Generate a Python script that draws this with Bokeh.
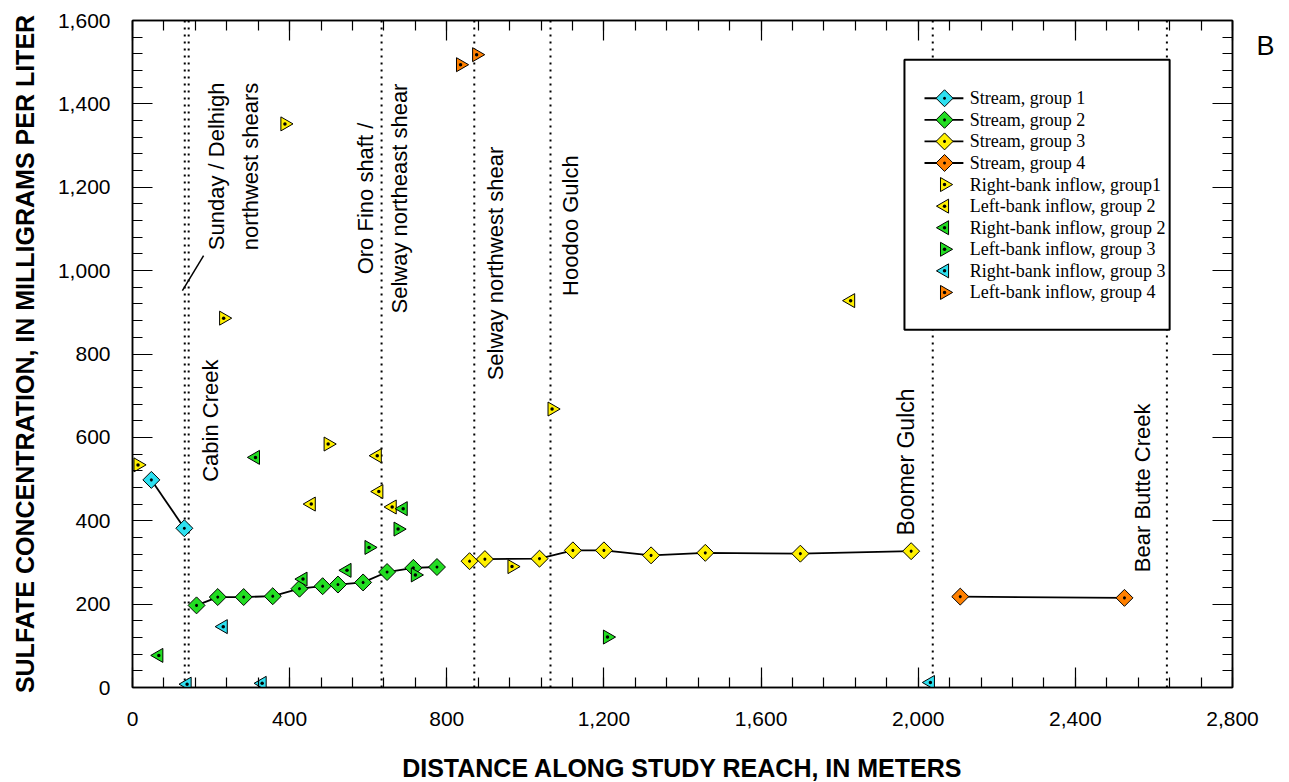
import numpy as np
from bokeh.plotting import figure
from bokeh.models import (Range1d, LinearAxis, SingleIntervalTicker, FixedTicker,
                          NumeralTickFormatter, CustomJSTickFormatter, Label)
from bokeh.core.properties import value
from bokeh.embed import file_html
from bokeh.resources import INLINE

# ---------------- data ----------------
stream1_x = [48, 132]
stream1_y = [498, 382]
stream2_x = [163, 217, 283, 357, 425, 484, 523, 587, 648, 715, 775]
stream2_y = [197, 217, 217, 219, 237, 243, 247, 252, 277, 287, 289]
stream3_x = [858, 897, 1036, 1121, 1200, 1320, 1458, 1700, 1982]
stream3_y = [303, 308, 309, 329, 329, 317, 323, 321, 327]
stream4_x = [2107, 2525]
stream4_y = [218, 215]

rb1_x = [14, 232, 388, 498, 966, 1068]          # Right-bank inflow, group1
rb1_y = [534, 886, 1352, 584, 290, 668]
lb2_x = [455, 623, 627, 661, 1828]              # Left-bank inflow, group 2
lb2_y = [440, 556, 470, 433, 928]
rb2_x = [67, 313, 434, 546, 689]                # Right-bank inflow, group 2
rb2_y = [77, 552, 260, 281, 429]
lb3_x = [602, 676, 720, 1209]                   # Left-bank inflow, group 3
lb3_y = [336, 380, 270, 121]
rb3_x = [139, 231, 330, 2031]                   # Right-bank inflow, group 3
rb3_y = [8, 146, 10, 12]
lb4_x = [835, 876]                              # Left-bank inflow, group 4
lb4_y = [1494, 1518]

feature_x = [133, 143, 634, 870, 1064, 2037, 2633]

legend_labels = ["Stream, group 1", "Stream, group 2", "Stream, group 3", "Stream, group 4",
                 "Right-bank inflow, group1", "Left-bank inflow, group 2",
                 "Right-bank inflow, group 2", "Left-bank inflow, group 3",
                 "Right-bank inflow, group 3", "Left-bank inflow, group 4"]

x_ticks_interval = 400
y_ticks_interval = 200

CYAN = "#2EE0F0"
GREEN = "#22DD22"
YELLOW = "#FFF000"
ORANGE = "#FF8000"

SANS = "Liberation Sans"
SERIF = "Liberation Serif"

X0, X1, Y0, Y1 = 0, 2800, 0, 1600

p = figure(frame_width=1100, frame_height=667,
           min_border_left=132, min_border_right=57, min_border_top=20, min_border_bottom=95,
           x_range=Range1d(X0, X1), y_range=Range1d(Y0, Y1),
           output_backend="svg", toolbar_location=None,
           background_fill_color="white", border_fill_color="white")
p.xgrid.visible = False
p.ygrid.visible = False
p.outline_line_color = "black"
p.outline_line_width = 1.5


def style_axis(ax, show_labels, standoff):
    ax.major_tick_in = 20
    ax.major_tick_out = 0
    ax.minor_tick_in = 10
    ax.minor_tick_out = 0
    ax.axis_line_color = "black"
    ax.axis_line_width = 1.5
    ax.major_tick_line_color = "black"
    ax.minor_tick_line_color = "black"
    ax.major_tick_line_width = 1.2
    ax.minor_tick_line_width = 1.2
    if show_labels:
        ax.formatter = NumeralTickFormatter(format="0,0")
        ax.major_label_text_font = SANS
        ax.major_label_text_font_size = "21px"
        ax.major_label_text_color = "black"
        ax.major_label_standoff = standoff
    else:
        ax.formatter = CustomJSTickFormatter(code="return ''")
        ax.major_label_standoff = 0


p.xaxis.ticker = SingleIntervalTicker(interval=x_ticks_interval, num_minor_ticks=5)
p.yaxis.ticker = SingleIntervalTicker(interval=y_ticks_interval, num_minor_ticks=5)
style_axis(p.xaxis[0], True, 24)
style_axis(p.yaxis[0], True, 22)

for ax in (p.xaxis[0], p.yaxis[0]):
    ax.axis_label_text_font = SANS
    ax.axis_label_text_font_size = "25px"
    ax.axis_label_text_font_style = "bold"
    ax.axis_label_text_color = "black"
p.xaxis.axis_label = "DISTANCE ALONG STUDY REACH, IN METERS"
p.xaxis.axis_label_standoff = 25
p.yaxis.axis_label = "SULFATE CONCENTRATION, IN MILLIGRAMS PER LITER"
p.yaxis.axis_label_standoff = 16

top_ax = LinearAxis(ticker=SingleIntervalTicker(interval=x_ticks_interval, num_minor_ticks=5))
style_axis(top_ax, False, 0)
p.add_layout(top_ax, "above")
right_ax = LinearAxis(ticker=SingleIntervalTicker(interval=y_ticks_interval, num_minor_ticks=5))
style_axis(right_ax, False, 0)
p.add_layout(right_ax, "right")

# panel letter "B" as a label-only right axis
b_ax = LinearAxis(ticker=FixedTicker(ticks=[1540]),
                  formatter=CustomJSTickFormatter(code="return 'B'"),
                  axis_line_color=None, major_tick_line_color=None, minor_tick_line_color=None,
                  major_tick_in=0, major_tick_out=0, major_label_standoff=24,
                  major_label_text_font=SANS, major_label_text_font_size="27px",
                  major_label_text_color="black")
p.add_layout(b_ax, "right")

# vertical dotted feature lines
n_feat = len(feature_x)
p.segment(x0=feature_x, y0=[Y0] * n_feat, x1=feature_x, y1=[Y1] * n_feat,
          line_color="black", line_width=2, line_dash="2 5")

# leader line for Sunday / Delhigh
p.line(x=[127, 181], y=[952, 1036], line_color="black", line_width=1.5)

diamond_size = 12
tri_size = 14
RIGHT = -np.pi / 2
LEFT = np.pi / 2


def stream(xs, ys, color):
    p.line(xs, ys, line_color="black", line_width=1.8)
    p.scatter(xs, ys, marker="square_dot", angle=np.pi / 4, size=diamond_size,
              fill_color=color, line_color="black", line_width=1)


def tri(xs, ys, color, ang):
    p.scatter(xs, ys, marker="triangle_dot", angle=ang, size=tri_size,
              fill_color=color, line_color="black", line_width=1)


stream(stream1_x, stream1_y, CYAN)
stream(stream2_x, stream2_y, GREEN)
stream(stream3_x, stream3_y, YELLOW)
stream(stream4_x, stream4_y, ORANGE)

tri_specs = [(rb1_x, rb1_y, YELLOW, RIGHT), (lb2_x, lb2_y, YELLOW, LEFT),
             (rb2_x, rb2_y, GREEN, LEFT), (lb3_x, lb3_y, GREEN, RIGHT),
             (rb3_x, rb3_y, CYAN, LEFT), (lb4_x, lb4_y, ORANGE, RIGHT)]
for xs, ys, c, a in tri_specs:
    tri(xs, ys, c, a)

# ---------------- legend (drawn by hand) ----------------
p.quad(left=[1965], right=[2640], top=[1506], bottom=[858],
       fill_color="white", line_color="black", line_width=2)

leg_top = 1413.5
leg_step = 51.76
leg_y = [leg_top - i * leg_step for i in range(len(legend_labels))]
glyph_x = 2067
line_x0, line_x1 = 2016, 2115
text_x = 2131

stream_colors = [CYAN, GREEN, YELLOW, ORANGE]
for i, c in enumerate(stream_colors):
    p.line([line_x0, line_x1], [leg_y[i], leg_y[i]], line_color="black", line_width=1.8)
    p.scatter([glyph_x], [leg_y[i]], marker="square_dot", angle=np.pi / 4, size=diamond_size,
              fill_color=c, line_color="black", line_width=1)
for j, (xs, ys, c, a) in enumerate(tri_specs):
    p.scatter([glyph_x], [leg_y[4 + j]], marker="triangle_dot", angle=a, size=tri_size,
              fill_color=c, line_color="black", line_width=1)
p.text(x=[text_x] * len(legend_labels), y=leg_y, text=legend_labels,
       text_font=value(SERIF), text_font_size="18px", text_baseline="middle",
       text_align="left", text_color="black")


# ---------------- annotation texts ----------------
def vlabel(x, y, text, size="22px"):
    p.add_layout(Label(x=x, y=y, text=text, angle=np.pi / 2, text_align="center",
                       text_baseline="middle", text_font=SANS, text_font_size=size,
                       text_color="black", text_line_height=1.35))


vlabel(198, 640, "Cabin Creek")
vlabel(257, 1250, "Sunday / Delhigh\nnorthwest shears")
vlabel(636, 1173, "Oro Fino shaft /\nSelway northeast shear")
vlabel(924, 1017, "Selway northwest shear")
vlabel(1115, 1108, "Hoodoo Gulch")
vlabel(1970, 541, "Boomer Gulch", "23px")
vlabel(2571, 479, "Bear Butte Creek")

open("out.html", "w").write(file_html(p, INLINE))
